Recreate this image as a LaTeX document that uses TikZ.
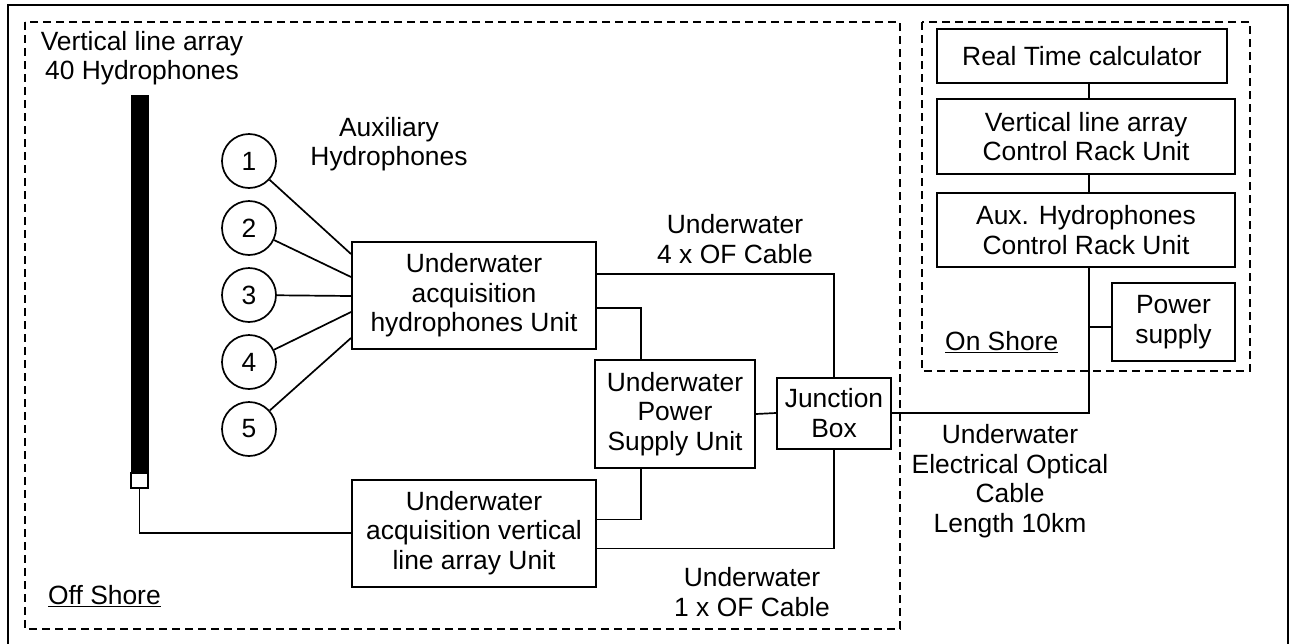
\documentclass[tikz,border=0pt]{standalone}
\usepackage{fontspec}
\setmainfont{Liberation Sans}
\begin{document}
\begin{tikzpicture}[x=1pt,y=-1pt,
  every node/.style={font=\fontsize{26.4}{29.5}\selectfont, align=center, inner sep=0pt},
  box/.style={draw, line width=2pt, rectangle},
  hyd/.style={draw, line width=1.7pt, circle, minimum size=54pt},
  wire/.style={line width=1.7pt},
  zone/.style={draw, line width=1.5pt, dash pattern=on 8pt off 5pt}
]
\useasboundingbox (0,0) rectangle (1290,643);
\clip (0,0) rectangle (1290,643);
% outer frame
\draw[line width=2.2pt] (8,5) rectangle (1288,660);
% zones
\draw[zone] (25,22) rectangle (900,629);
\draw[zone] (922,22) rectangle (1250,371);

% labels
\node (vlalabel) at (142,58) {Vertical line array\\40 Hydrophones};
\node (auxlabel) at (389,144) {Auxiliary\\Hydrophones};
\node (of4) at (735,239) {Underwater\\4 x OF Cable};
\node (of1) at (752,592) {Underwater\\1 x OF Cable};
\node (eoc) at (1010,481) {Underwater\\Electrical Optical\\Cable\\Length 10km};
\node[anchor=west] (offshore) at (48,596) {\underline{Off Shore}};
\node[anchor=west] (onshore) at (945,342) {\underline{On Shore}};

% array
\node[fill=black, draw, line width=1pt, minimum width=17pt, minimum height=378pt] (array) at (139.5,284) {};
\node[fill=white, draw, line width=1.5pt, minimum width=17pt, minimum height=15pt] (arrbot) at (139.5,480.5) {};

% hydrophones
\foreach \i [evaluate=\i as \yy using 161+67*(\i-1)] in {1,...,5}
  \node[hyd] (c\i) at (249,\yy) {\i};

% boxes
\node[box, minimum width=244pt, minimum height=107pt] (hydu) at (474,295.5) {Underwater\\acquisition\\hydrophones Unit};
\node[box, minimum width=244pt, minimum height=107pt] (vlau) at (474,533) {Underwater\\acquisition vertical\\line array Unit};
\node[box, minimum width=160pt, minimum height=108pt] (psu) at (675,414) {Underwater\\Power\\Supply Unit};
\node[box, minimum width=114pt, minimum height=71pt] (jb) at (834,413) {Junction\\Box};
\node[box, minimum width=290pt, minimum height=54pt] (rtc) at (1082,56) {Real Time calculator};
\node[box, minimum width=298pt, minimum height=75pt] (vcr) at (1086,136.5) {Vertical line array\\Control Rack Unit};
\node[box, minimum width=298pt, minimum height=74pt] (acr) at (1086,230) {Aux. Hydrophones\\Control Rack Unit};
\node[box, minimum width=123pt, minimum height=78pt] (ps) at (1173.5,322) {Power\\supply};

\coordinate (sx) at (1089,0);

% hydrophone wires
\draw[wire] (c1) -- ([yshift=-13pt]hydu.north west);
\draw[wire] (c2) -- ([yshift=-36pt]hydu.north west);
\draw[wire] (c3) -- ([yshift=-55pt]hydu.north west);
\draw[wire] (c4) -- ([yshift=-71pt]hydu.north west);
\draw[wire] (c5) -- ([yshift=-97pt]hydu.north west);

% array to unit
\draw[wire] (arrbot.south) |- (vlau.west);

% offshore wiring
\draw[wire] ([yshift=-33pt]hydu.north east) -| (jb.north);
\draw[wire] ([yshift=-67pt]hydu.north east) -| ([xshift=-34pt]psu.north);
\draw[wire] ([xshift=-34pt]psu.south) |- ([yshift=-41pt]vlau.north east);
\draw[wire] ([yshift=-70pt]vlau.north east) -| (jb.south);
\draw[wire] (psu.east) -- (jb.west);

% shore cable
\draw[wire] (jb.east) -- (jb.east -| sx) -- (acr.south -| sx);
\draw[wire] ([yshift=-5pt]ps.west) -- ([yshift=-5pt]ps.west -| sx);
\draw[wire] (rtc.south -| sx) -- (vcr.north -| sx);
\draw[wire] (vcr.south -| sx) -- (acr.north -| sx);
\end{tikzpicture}
\end{document}
